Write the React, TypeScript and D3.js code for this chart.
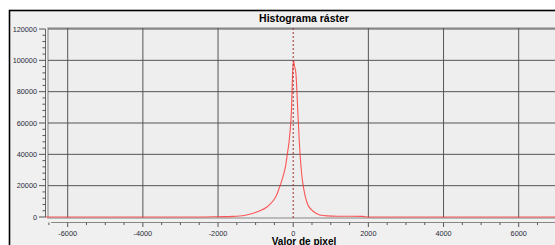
import React from "react";
import * as d3 from "d3";

const pixelValues = [-6600, -2500, -2000, -1600, -1300, -1064, -900, -707, -600, -500, -441, -372, -300, -247, -200, -160, -106, -43, -16, 10, 30, 72, 117, 160, 223, 285, 372, 489, 600, 710, 900, 1200, 1850, 2000, 7600];
const counts = [0, 0, 200, 400, 1000, 2400, 3800, 6200, 8500, 11500, 14000, 18500, 23500, 28000, 33000, 39600, 49000, 70500, 91700, 100000, 97000, 91700, 70500, 49200, 27900, 17300, 8800, 4500, 2500, 1300, 700, 500, 400, 0, 0];

const xTicks = [-6000, -4000, -2000, 0, 2000, 4000, 6000];
const yTicks = [0, 20000, 40000, 60000, 80000, 100000, 120000];
const title = "Histograma ráster";
const xLabel = "Valor de pixel";

export default function App() {
  const x = d3.scaleLinear().domain([-6000, 6000]).range([67.7, 518.7]);
  const y = d3.scaleLinear().domain([0, 120000]).range([217, 29]);
  const plotL = 48, plotT = 28, plotB = 218, right = 560;
  const xMinor = d3.range(-6500, 7600, 500).filter((v) => v % 2000 !== 0);
  const yMinor = d3.range(0, 120001, 4000).filter((v) => v % 20000 !== 0);
  const pts = pixelValues.map((v, i) => [v, counts[i]] as [number, number]);
  const line = d3.line<[number, number]>().x((d) => x(d[0])).y((d) => y(d[1])).curve(d3.curveMonotoneX);
  const font = "Liberation Sans, Arial, sans-serif";
  return (
    <svg width={555} height={245} style={{ position: "absolute", left: 0, top: 0 }} fontFamily={font}>
      <rect x={0} y={0} width={555} height={245} fill="#ffffff" />
      <rect x={9.5} y={10.5} width={600} height={260} fill="#f0f0f0" stroke="#000" strokeWidth={1.6} />
      <text x={304} y={22} textAnchor="middle" fontSize={10.5} fontWeight="bold" fill="#000">{title}</text>
      <rect x={plotL} y={plotT} width={right - plotL} height={plotB - plotT} fill="#eeeeee" stroke="#a8a8a8" strokeWidth={1.5} />
      {xTicks.map((t) => t === 0 ? null : (
        <line key={"gx" + t} x1={x(t)} x2={x(t)} y1={plotT} y2={plotB} stroke="#555" strokeWidth={1} />
      ))}
      {yTicks.map((t) => t === 0 ? null : (
        <line key={"gy" + t} x1={plotL} x2={right} y1={y(t)} y2={y(t)} stroke="#555" strokeWidth={1} />
      ))}
      <line x1={plotL} x2={right} y1={y(0) + 1} y2={y(0) + 1} stroke="#bbb" strokeWidth={1} />
      <path d={line(pts) || ""} fill="none" stroke="#ff3030" strokeOpacity={0.8} strokeWidth={1.1} />
      <line x1={x(0)} x2={x(0)} y1={plotT} y2={plotB} stroke="#a03030" strokeWidth={1} strokeDasharray="2,2" />
      {/* y axis */}
      <line x1={45.5} x2={45.5} y1={y(120000)} y2={y(0)} stroke="#666" strokeWidth={1} />
      {yTicks.map((t) => (
        <g key={"yt" + t}>
          <line x1={39} x2={45.5} y1={y(t)} y2={y(t)} stroke="#555" />
          <text x={37} y={y(t) + 2.5} textAnchor="end" fontSize={7.3} fill="#2a2a3a">{t}</text>
        </g>
      ))}
      {yMinor.map((t) => (
        <line key={"ym" + t} x1={42.5} x2={45.5} y1={y(t)} y2={y(t)} stroke="#555" />
      ))}
      {/* x axis */}
      <line x1={51} x2={right} y1={222.5} y2={222.5} stroke="#888" strokeWidth={1} />
      {xTicks.map((t) => (
        <g key={"xt" + t}>
          <line x1={x(t)} x2={x(t)} y1={222.5} y2={227} stroke="#555" />
          <text x={x(t)} y={235.5} textAnchor="middle" fontSize={7.3} fill="#2a2a3a">{t}</text>
        </g>
      ))}
      {xMinor.map((t) => (
        <line key={"xm" + t} x1={x(t)} x2={x(t)} y1={222.5} y2={225} stroke="#555" />
      ))}
      <text x={304} y={245} textAnchor="middle" fontSize={10} fontWeight="bold" fill="#000">{xLabel}</text>
    </svg>
  );
}
